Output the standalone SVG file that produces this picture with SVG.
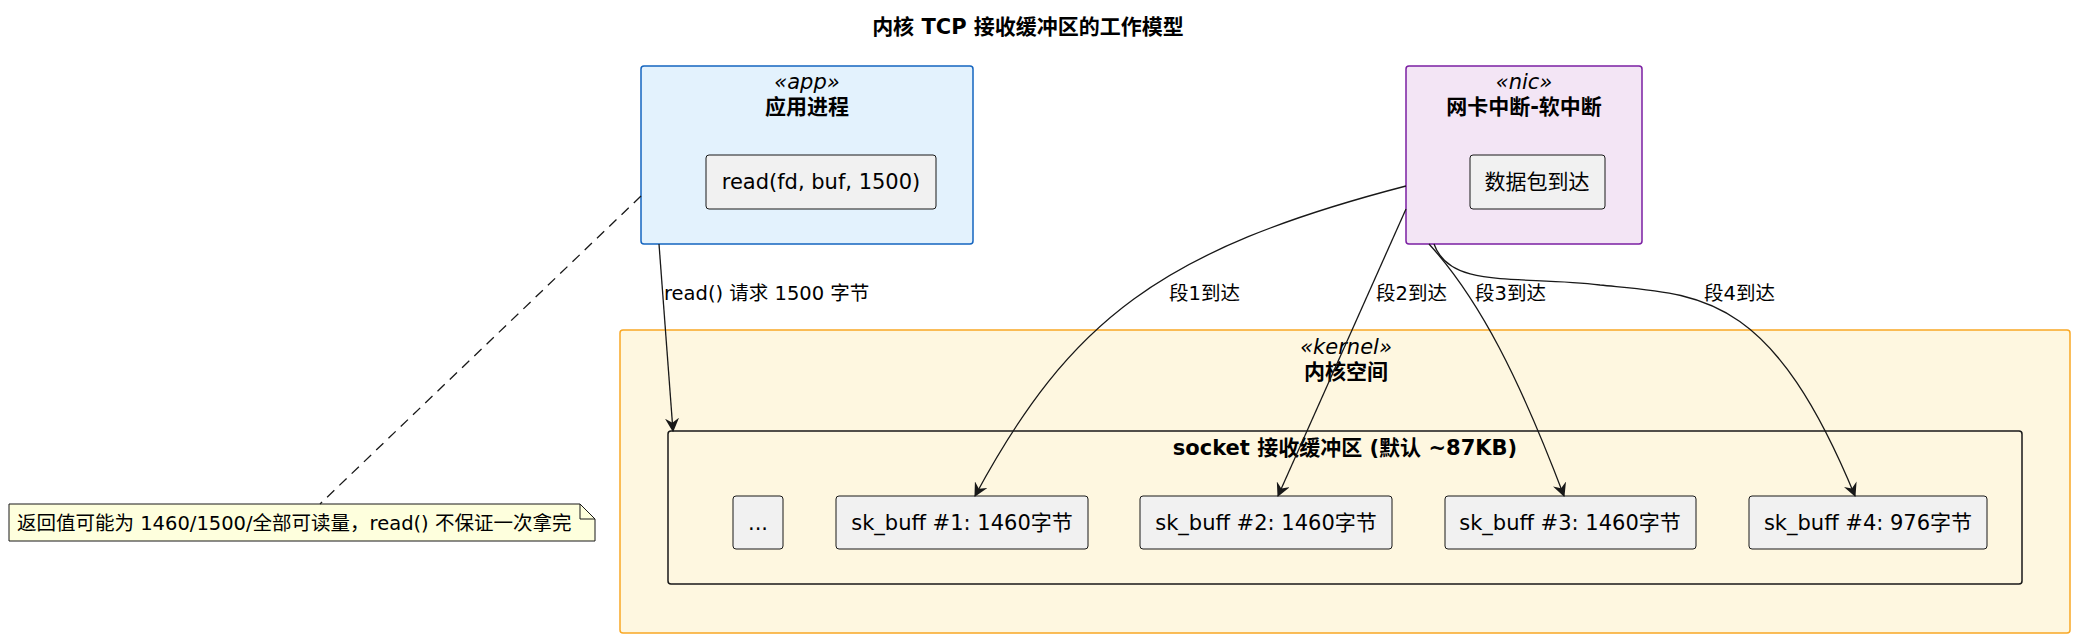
<svg xmlns="http://www.w3.org/2000/svg" width="2078" height="640" viewBox="0 0 2078 640">
<style>
text{font-family:"DejaVu Sans","Noto Sans CJK SC",sans-serif;fill:#000}
.t{font-size:21px;text-anchor:middle}
.b{font-weight:bold}
.st{font-style:italic}
.lb{font-size:19.5px}
.leaf{fill:#F1F1F1;stroke:#181818;stroke-width:1}
.e{fill:none;stroke:#181818;stroke-width:1.3}
</style>
<defs>
<marker id="ah" viewBox="0 0 12 12" refX="11" refY="6" markerWidth="14" markerHeight="14" markerUnits="userSpaceOnUse" orient="auto">
<path d="M0,0 L12,6 L0,12 L4,6 Z" fill="#181818"/>
</marker>
</defs>
<rect width="2078" height="640" fill="#fff"/>
<text x="1028" y="34" class="t b">内核 TCP 接收缓冲区的工作模型</text>
<g id="kernel">
<rect x="620" y="330" width="1450" height="303" rx="3" fill="#FEF7E0" stroke="#F9A825" stroke-width="1.5"/>
<text x="1346" y="354" class="t st">«kernel»</text>
<text x="1346" y="379" class="t b">内核空间</text>
</g>
<g id="socket">
<rect x="668" y="431" width="1354" height="153" rx="3" fill="#FEF7E0" stroke="#181818" stroke-width="1.5"/>
<text x="1345" y="455" class="t b">socket 接收缓冲区 (默认 ~87KB)</text>
</g>
<g id="dots"><rect x="733" y="496" width="50" height="53" rx="3" class="leaf"/><text x="758" y="530" class="t">...</text></g>
<g id="sk1"><rect x="836" y="496" width="252" height="53" rx="3" class="leaf"/><text x="962" y="530" class="t">sk_buff #1: 1460字节</text></g>
<g id="sk2"><rect x="1140" y="496" width="252" height="53" rx="3" class="leaf"/><text x="1266" y="530" class="t">sk_buff #2: 1460字节</text></g>
<g id="sk3"><rect x="1445" y="496" width="251" height="53" rx="3" class="leaf"/><text x="1570" y="530" class="t">sk_buff #3: 1460字节</text></g>
<g id="sk4"><rect x="1749" y="496" width="238" height="53" rx="3" class="leaf"/><text x="1868" y="530" class="t">sk_buff #4: 976字节</text></g>
<g id="app">
<rect x="641" y="66" width="332" height="178" rx="3" fill="#E3F2FD" stroke="#1565C0" stroke-width="1.5"/>
<text x="807" y="89" class="t st">«app»</text>
<text x="807" y="114" class="t b">应用进程</text>
<rect x="706" y="155" width="230" height="54" rx="3" class="leaf"/>
<text x="821" y="189" class="t">read(fd, buf, 1500)</text>
</g>
<g id="nic">
<rect x="1406" y="66" width="236" height="178" rx="3" fill="#F3E5F5" stroke="#7B1FA2" stroke-width="1.5"/>
<text x="1524" y="89" class="t st">«nic»</text>
<text x="1524" y="114" class="t b">网卡中断-软中断</text>
<rect x="1470" y="155" width="135" height="54" rx="3" class="leaf"/>
<text x="1537" y="189" class="t">数据包到达</text>
</g>
<g id="note">
<path d="M9,504 H580 L595,519 V541 H9 Z" fill="#FEFFDD" stroke="#181818" stroke-width="1"/>
<path d="M580,504 V519 H595" fill="none" stroke="#181818" stroke-width="1"/>
<text x="17" y="530" class="lb">返回值可能为 1460/1500/全部可读量，read() 不保证一次拿完</text>
</g>
<g id="connectors">
<path class="e" d="M659,244 L673,431" marker-end="url(#ah)"/>
<text x="664" y="300" class="lb">read() 请求 1500 字节</text>
<path class="e" d="M641,196 L320,504" stroke-dasharray="10,7"/>
<path class="e" d="M1406,186 C1160,250 1070,320 975,496" marker-end="url(#ah)"/>
<text x="1169" y="300" class="lb">段1到达</text>
<path class="e" d="M1406,209 L1278,496" marker-end="url(#ah)"/>
<text x="1376" y="300" class="lb">段2到达</text>
<path class="e" d="M1429,244 C1480,300 1520,380 1564,496" marker-end="url(#ah)"/>
<text x="1475" y="300" class="lb">段3到达</text>
<path class="e" d="M1434,244 C1450,290 1520,275 1600,285 C1700,295 1770,290 1855,496" marker-end="url(#ah)"/>
<text x="1704" y="300" class="lb">段4到达</text>
</g>
</svg>
